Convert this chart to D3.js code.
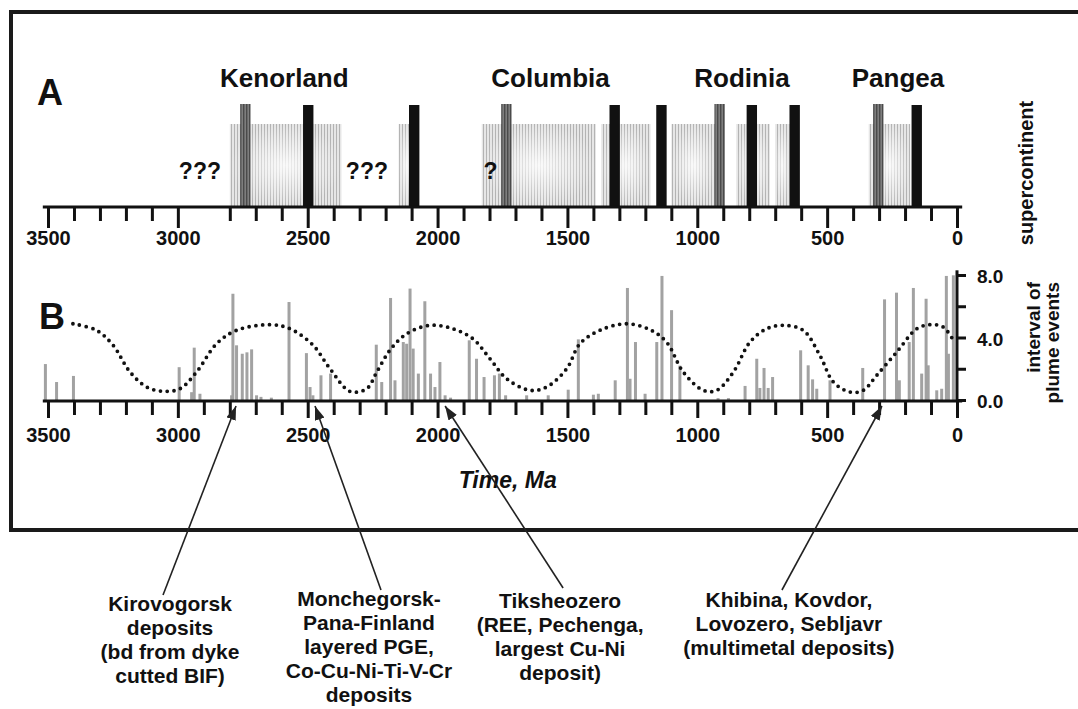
<!DOCTYPE html>
<html>
<head>
<meta charset="utf-8">
<script src="https://cdn.jsdelivr.net/npm/d3@7"></script>
<style>
  body { margin: 0; background: #fff; }
  text { font-family: "Liberation Sans", Arial, Helvetica, sans-serif; font-weight: bold; fill: #111; }
</style>
</head>
<body>
<div id="chart"></div>
<script>
// --- data (ages in Ma) ---
const supercontinents = ['Kenorland', 'Columbia', 'Rodinia', 'Pangea'];
const supercontinentAges = [2590, 1565, 828, 227];
const assemblyStarts = [2800, 2150, 1830, 1370, 1100, 850, 700, 340];
const assemblyEnds = [2370, 2090, 1390, 1180, 930, 720, 645, 180];
const greyEvents = [2740, 1735, 914, 303];
const blackEvents = [2498, 2090, 1318, 1138, 790, 625, 155];
const unknownMarks = ['???', '???', '?'];
const unknownAges = [2915, 2272, 1796];

const plumeAges = [3510, 3467, 3402, 2995, 2947, 2937, 2915, 2793, 2788, 2774,
  2752, 2734, 2716, 2697, 2680, 2640, 2572, 2505, 2491, 2480,
  2449, 2412, 2236, 2215, 2181, 2164, 2132, 2119, 2106, 2094,
  2074, 2049, 2027, 2010, 1991, 1971, 1950, 1878, 1850, 1821,
  1781, 1762, 1738, 1657, 1574, 1497, 1458, 1400, 1381, 1316,
  1269, 1259, 1238, 1201, 1156, 1136, 1099, 1067, 920, 880,
  816, 771, 759, 743, 727, 710, 602, 573, 556, 540,
  489, 363, 279, 233, 222, 184, 168, 136, 119, 111,
  78, 59, 41, 33, 14];
const plumeValues = [2.3, 1.15, 1.54, 2.1, 0.5, 3.35, 0.4, 0.3, 6.8, 3.5,
  2.96, 3.05, 3.24, 0.3, 0.2, 0.15, 6.27, 3.0, 0.83, 0.3,
  1.58, 1.69, 3.54, 1.15, 6.53, 1.26, 3.71, 3.6, 7.13, 3.29,
  1.69, 6.32, 1.69, 0.83, 2.43, 0.3, 0.15, 3.82, 2.64, 1.47,
  1.58, 1.69, 0.3, 0.3, 0.3, 0.66, 3.88, 0.34, 0.4, 1.26,
  7.17, 1.36, 3.71, 0.4, 3.71, 7.94, 5.75, 2.2, 0.12, 0.12,
  0.9, 2.64, 0.77, 2.05, 0.77, 1.47, 3.18, 2.22, 1.32, 0.72,
  1.26, 2.05, 6.44, 6.87, 1.26, 3.71, 7.17, 1.69, 6.48, 2.22,
  0.62, 0.72, 7.94, 2.96, 7.98];

const cycleAges = [3404, 3313, 3250, 3184, 3120, 3057, 2992, 2928, 2851, 2774,
  2645, 2568, 2480, 2414, 2337, 2273, 2234, 2183, 2119, 2029,
  1941, 1864, 1798, 1734, 1644, 1580, 1503, 1452, 1375, 1272,
  1182, 1118, 1054, 977, 925, 861, 797, 733, 669, 592,
  528, 476, 412, 361, 309, 232, 155, 104, 53, 14];
const cycleValues = [4.88, 4.46, 3.52, 1.79, 0.83, 0.56, 0.72, 1.79, 3.6, 4.46,
  4.82, 4.56, 3.52, 2.0, 0.55, 0.72, 1.79, 3.2, 4.24, 4.78,
  4.56, 3.92, 2.64, 1.36, 0.62, 0.83, 2.0, 3.6, 4.46, 4.88,
  4.5, 3.7, 1.79, 0.62, 0.62, 1.79, 3.71, 4.56, 4.78, 4.46,
  2.86, 1.15, 0.51, 0.62, 1.58, 3.07, 4.56, 4.82, 4.67, 3.82];

const majorTicks = [3500, 3000, 2500, 2000, 1500, 1000, 500, 0];
const plumeTicks = [0, 2, 4, 6, 8];
const plumeTickLabels = [0, 4, 8];

const depositNotes = [
  ['Kirovogorsk', 'deposits', '(bd from dyke', 'cutted BIF)'],
  ['Monchegorsk-', 'Pana-Finland', 'layered PGE,', 'Co-Cu-Ni-Ti-V-Cr', 'deposits'],
  ['Tiksheozero', '(REE, Pechenga,', 'largest Cu-Ni', 'deposit)'],
  ['Khibina, Kovdor,', 'Lovozero, Sebljavr', '(multimetal deposits)']
];
const depositAges = [2776, 2472, 1971, 289];

// --- layout ---
const width = 1078;
const height = 709;
const svg = d3.select('#chart').append('svg')
  .attr('width', width)
  .attr('height', height);

const x = d3.scaleLinear().domain([3500, 0]).range([48, 957]);
const axisAY = 207;
const axisBY = 401;
const yB = d3.scaleLinear().domain([0, 8]).range([400, 275]);

const defs = svg.append('defs');
const hatch = defs.append('pattern')
  .attr('id', 'hatch').attr('patternUnits', 'userSpaceOnUse')
  .attr('width', 3).attr('height', 6);
hatch.append('rect').attr('width', 3).attr('height', 6).attr('fill', '#e6e6e6');
hatch.append('rect').attr('width', 1).attr('height', 6).attr('fill', '#b3b3b3');
const darkHatch = defs.append('pattern')
  .attr('id', 'darkHatch').attr('patternUnits', 'userSpaceOnUse')
  .attr('width', 3).attr('height', 6);
darkHatch.append('rect').attr('width', 3).attr('height', 6).attr('fill', '#7e7e7e');
darkHatch.append('rect').attr('width', 1.4).attr('height', 6).attr('fill', '#4a4a4a');
const glow = defs.append('radialGradient').attr('id', 'glow');
glow.append('stop').attr('offset', '0%').attr('stop-color', '#fff').attr('stop-opacity', 0.8);
glow.append('stop').attr('offset', '100%').attr('stop-color', '#fff').attr('stop-opacity', 0);
defs.append('marker')
  .attr('id', 'head')
  .attr('viewBox', '0 0 14 10')
  .attr('refX', 14).attr('refY', 5)
  .attr('markerWidth', 14).attr('markerHeight', 10)
  .attr('markerUnits', 'userSpaceOnUse')
  .attr('orient', 'auto')
  .append('path')
  .attr('d', 'M0,0 L14,5 L0,10 Z')
  .attr('fill', '#222');

// frame
svg.append('path')
  .attr('d', `M${width},12 H11 V530 H${width}`)
  .attr('fill', 'none')
  .attr('stroke', '#1a1a1a')
  .attr('stroke-width', 4);

// --- panel A ---
const gA = svg.append('g');
const zones = assemblyStarts.map((s, i) => ({start: s, end: assemblyEnds[i]}));
gA.selectAll('rect.zone')
  .data(zones)
  .join('rect')
  .attr('class', 'zone')
  .attr('x', d => x(d.start))
  .attr('y', 124)
  .attr('width', d => x(d.end) - x(d.start))
  .attr('height', axisAY - 124)
  .attr('fill', 'url(#hatch)');
gA.selectAll('rect.glow')
  .data(zones)
  .join('rect')
  .attr('class', 'glow')
  .attr('x', d => x(d.start))
  .attr('y', 124)
  .attr('width', d => x(d.end) - x(d.start))
  .attr('height', axisAY - 124)
  .attr('fill', 'url(#glow)');

const eventWidth = x(0) - x(40);
gA.selectAll('rect.grey')
  .data(greyEvents)
  .join('rect')
  .attr('class', 'grey')
  .attr('x', d => x(d) - eventWidth / 2)
  .attr('y', 104)
  .attr('width', eventWidth)
  .attr('height', axisAY - 104)
  .attr('fill', 'url(#darkHatch)');
gA.selectAll('rect.black')
  .data(blackEvents)
  .join('rect')
  .attr('class', 'black')
  .attr('x', d => x(d) - eventWidth / 2)
  .attr('y', 105)
  .attr('width', eventWidth)
  .attr('height', axisAY - 105)
  .attr('fill', '#111');

gA.selectAll('text.name')
  .data(supercontinents)
  .join('text')
  .attr('class', 'name')
  .attr('x', (d, i) => x(supercontinentAges[i]))
  .attr('y', 87)
  .attr('text-anchor', 'middle')
  .style('font-size', '26px')
  .text(d => d);
gA.selectAll('text.unknown')
  .data(unknownMarks)
  .join('text')
  .attr('class', 'unknown')
  .attr('x', (d, i) => x(unknownAges[i]))
  .attr('y', 179)
  .attr('text-anchor', 'middle')
  .style('font-size', '23px')
  .text(d => d);

// time axes
function timeAxis(g, y0, minorValues, minorLen, majorLen, labelY) {
  g.append('line')
    .attr('x1', x(3520)).attr('x2', x(-20))
    .attr('y1', y0).attr('y2', y0)
    .attr('stroke', '#111').attr('stroke-width', 3);
  g.append('g')
    .attr('transform', `translate(0,${y0})`)
    .call(d3.axisBottom(x).tickValues(minorValues).tickSize(minorLen).tickFormat(''))
    .call(a => a.select('.domain').remove())
    .call(a => a.selectAll('line').attr('stroke', '#111').attr('stroke-width', 3));
  g.append('g')
    .attr('transform', `translate(0,${y0})`)
    .call(d3.axisBottom(x).tickValues(majorTicks).tickSize(majorLen).tickFormat(d3.format('d')))
    .call(a => a.select('.domain').remove())
    .call(a => a.selectAll('line').attr('stroke', '#111').attr('stroke-width', 3))
    .call(a => a.selectAll('text')
      .attr('y', labelY)
      .attr('fill', '#111')
      .style('font-size', '20px')
      .style('font-family', '"Liberation Sans", Arial, sans-serif')
      .style('font-weight', 'bold'));
}
const allTicks = d3.range(0, 3501, 100);
timeAxis(gA, axisAY, allTicks.filter(d => d !== 2900 && majorTicks.indexOf(d) < 0), 14, 21, 24);

svg.append('text')
  .attr('x', 37).attr('y', 105)
  .style('font-size', '36px')
  .text('A');
svg.append('text')
  .attr('transform', 'translate(1033,173) rotate(-90)')
  .attr('text-anchor', 'middle')
  .style('font-size', '20px')
  .text('supercontinent');

// --- panel B ---
const gB = svg.append('g');
const plumes = plumeAges.map((a, i) => ({age: a, value: plumeValues[i]}));
gB.selectAll('rect.plume')
  .data(plumes)
  .join('rect')
  .attr('class', 'plume')
  .attr('x', d => x(d.age) - 1.5)
  .attr('y', d => yB(d.value))
  .attr('width', 3)
  .attr('height', d => yB(0) - yB(d.value))
  .attr('fill', '#a2a2a2');

const cycle = cycleAges.map((a, i) => ({age: a, value: cycleValues[i]}));
const cycleLine = d3.line()
  .curve(d3.curveCatmullRom)
  .x(d => x(d.age))
  .y(d => yB(d.value));
gB.append('path')
  .datum(cycle)
  .attr('fill', 'none')
  .attr('stroke', '#111')
  .attr('stroke-width', 3.8)
  .attr('stroke-linecap', 'round')
  .attr('stroke-dasharray', '0 6.8')
  .attr('d', cycleLine);

timeAxis(gB, axisBY, allTicks.filter(d => majorTicks.indexOf(d) < 0), 14, 17, 27);

// right axis
const gR = gB.append('g').attr('transform', `translate(${x(0)},0)`);
gR.append('line')
  .attr('x1', 0).attr('x2', 0)
  .attr('y1', yB(8.3)).attr('y2', axisBY)
  .attr('stroke', '#111').attr('stroke-width', 3);
gR.call(d3.axisRight(yB).tickValues(plumeTicks).tickSize(9).tickFormat(''))
  .call(a => a.select('.domain').remove())
  .call(a => a.selectAll('line').attr('stroke', '#111').attr('stroke-width', 3));
gR.selectAll('text.lab')
  .data(plumeTickLabels)
  .join('text')
  .attr('class', 'lab')
  .attr('x', 20)
  .attr('y', d => yB(d) + 8)
  .style('font-size', '19px')
  .text(d3.format('.1f'));

svg.append('text')
  .attr('transform', 'translate(1040,282) rotate(-90)')
  .attr('text-anchor', 'end')
  .style('font-size', '19px')
  .text('interval of');
svg.append('text')
  .attr('transform', 'translate(1059,282) rotate(-90)')
  .attr('text-anchor', 'end')
  .style('font-size', '19px')
  .text('plume events');

svg.append('text')
  .attr('x', 39).attr('y', 329)
  .style('font-size', '36px')
  .text('B');

svg.append('text')
  .attr('x', x(1730)).attr('y', 488)
  .attr('text-anchor', 'middle')
  .style('font-size', '23px')
  .style('font-style', 'italic')
  .text('Time, Ma');

// --- deposit callouts ---
const noteShift = [-66, 54, 115, -93];
const noteTop = [611, 606, 608, 607];
const lineEnd = [[-7, 595], [12, 590], [3, 588], [-7, 590]];
depositNotes.forEach((lines, i) => {
  const tipX = x(depositAges[i]);
  const cx = tipX + noteShift[i];
  svg.append('line')
    .attr('x1', cx + lineEnd[i][0]).attr('y1', lineEnd[i][1])
    .attr('x2', tipX).attr('y2', axisBY + 5)
    .attr('stroke', '#222')
    .attr('stroke-width', 1.6)
    .attr('marker-end', 'url(#head)');
  const t = svg.append('text')
    .attr('text-anchor', 'middle')
    .style('font-size', '21px');
  lines.forEach((s, j) => {
    t.append('tspan')
      .attr('x', cx)
      .attr('y', noteTop[i] + j * 24)
      .text(s);
  });
});
</script>
</body>
</html>
